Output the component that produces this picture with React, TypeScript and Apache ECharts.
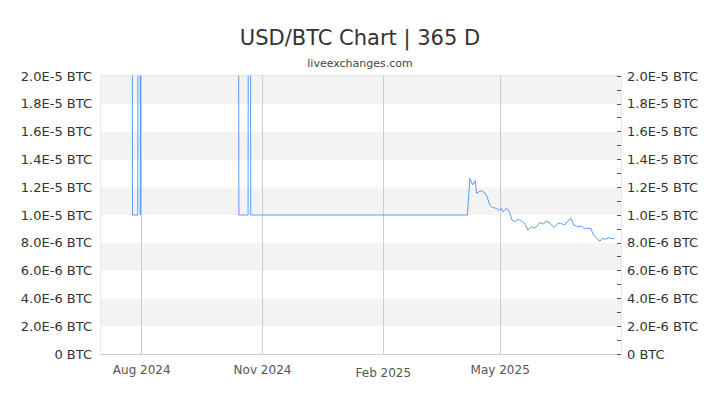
import * as echarts from 'echarts'
import React, { useEffect, useRef } from 'react'

// spike = off-chart glitch value, clipped at the top of the plot
const SPIKE = 1e-4

const dates = [
  '2024-07-24', '2024-07-25', '2024-07-29', '2024-07-30', '2024-07-31', '2024-08-01',
  '2024-10-13', '2024-10-14', '2024-10-21', '2024-10-22', '2024-10-23',
  '2025-04-06', '2025-04-08', '2025-04-10', '2025-04-12', '2025-04-13', '2025-04-15',
  '2025-04-17', '2025-04-19', '2025-04-21', '2025-04-23', '2025-04-25', '2025-04-28',
  '2025-04-30', '2025-05-02', '2025-05-03', '2025-05-06', '2025-05-08', '2025-05-10',
  '2025-05-12', '2025-05-15', '2025-05-18', '2025-05-20', '2025-05-22', '2025-05-25',
  '2025-05-27', '2025-05-29', '2025-05-31', '2025-06-03', '2025-06-05', '2025-06-08',
  '2025-06-11', '2025-06-14', '2025-06-16', '2025-06-19', '2025-06-21', '2025-06-24',
  '2025-06-26', '2025-06-29', '2025-07-02', '2025-07-04', '2025-07-06', '2025-07-09',
  '2025-07-11', '2025-07-14', '2025-07-16', '2025-07-18', '2025-07-20', '2025-07-23',
  '2025-07-25', '2025-07-27',
]

const rates = [
  SPIKE, 1.0e-5, 1.0e-5, SPIKE, 1.0e-5, SPIKE,
  SPIKE, 1.0e-5, 1.0e-5, SPIKE, 1.0e-5,
  1.0e-5, 1.264e-5, 1.216e-5, 1.247e-5, 1.156e-5, 1.168e-5,
  1.175e-5, 1.16e-5, 1.132e-5, 1.072e-5, 1.055e-5, 1.048e-5,
  1.036e-5, 1.048e-5, 1.024e-5, 1.048e-5, 1.024e-5, 9.64e-6,
  9.52e-6, 9.69e-6, 9.52e-6, 9.35e-6, 8.92e-6, 9.16e-6,
  9.04e-6, 9.2e-6, 9.45e-6, 9.35e-6, 9.57e-6, 9.4e-6,
  9.09e-6, 9.4e-6, 9.4e-6, 9.28e-6, 9.52e-6, 9.76e-6,
  9.28e-6, 9.16e-6, 9.2e-6, 9.04e-6, 9.04e-6, 9.04e-6,
  8.56e-6, 8.25e-6, 8.13e-6, 8.32e-6, 8.25e-6, 8.37e-6,
  8.3e-6, 8.32e-6,
]

const xStart = '2024-07-01'
const xEnd = '2025-08-01'
const xTicks = ['2024-08-01', '2024-11-01', '2025-02-01', '2025-05-01']
const monthNames = ['Jan', 'Feb', 'Mar', 'Apr', 'May', 'Jun', 'Jul', 'Aug', 'Sep', 'Oct', 'Nov', 'Dec']

const yMin = 0
const yMax = 2e-5
const yStep = 2e-6

const font = '"DejaVu Sans", sans-serif'

const toTime = (d: string) => Date.parse(d + 'T00:00:00Z')

function formatRate(v: number) {
  if (v === 0) return '0 BTC'
  return v.toExponential(1).toUpperCase() + ' BTC'
}

function formatMonth(v: number) {
  const d = new Date(v)
  const text = monthNames[d.getUTCMonth()] + ' ' + d.getUTCFullYear()
  // the Feb label sits a little lower in the original
  return d.getUTCMonth() === 1 ? '{low|' + text + '}' : text
}

export default function App() {
  const chartRef = useRef(null)

  useEffect(() => {
    const chart = echarts.init(chartRef.current, null, { renderer: 'svg' })

    const tickTimes = xTicks.map(toTime)

    const yCommon = {
      type: 'value',
      min: yMin,
      max: yMax,
      interval: yStep,
      splitLine: { show: false },
      axisLine: { show: false },
      axisLabel: {
        formatter: formatRate,
        color: '#333',
        fontSize: 13,
        fontFamily: font,
      },
    }

    chart.setOption({
      animation: false,
      title: [
        {
          text: 'USD/BTC Chart | 365 D',
          left: 'center',
          top: 22,
          textStyle: { fontSize: 21, fontWeight: 'normal', color: '#333', fontFamily: font },
        },
        {
          text: 'liveexchanges.com',
          left: 'center',
          top: 53,
          textStyle: { fontSize: 11, fontWeight: 'normal', color: '#444', fontFamily: font },
        },
      ],
      grid: {
        left: 101,
        right: 99,
        top: 76,
        bottom: 51,
        show: true,
        borderColor: '#d0d0d0',
        borderWidth: 1,
        backgroundColor: 'transparent',
      },
      xAxis: {
        type: 'value',
        min: toTime(xStart),
        max: toTime(xEnd),
        axisLine: { show: true, lineStyle: { color: '#d0d0d0' } },
        axisTick: { show: false, customValues: tickTimes },
        splitLine: { show: true, lineStyle: { color: '#cccccc', width: 1 } },
        axisLabel: {
          customValues: tickTimes,
          formatter: formatMonth,
          color: '#555',
          fontSize: 12,
          fontFamily: font,
          margin: 10,
          rich: {
            low: { fontSize: 12, color: '#555', fontFamily: font, padding: [3, 0, 0, 0] },
          },
        },
      },
      yAxis: [
        {
          ...yCommon,
          position: 'left',
          axisTick: { show: false },
          splitArea: { show: true, areaStyle: { color: ['#ffffff', '#f3f3f3'] } },
          axisLabel: { ...yCommon.axisLabel, margin: 9 },
        },
        {
          ...yCommon,
          position: 'right',
          axisTick: { show: true, inside: true, length: 4, lineStyle: { color: '#555' } },
          minorTick: { show: true, splitNumber: 2, length: 4, lineStyle: { color: '#555' } },
          axisLabel: { ...yCommon.axisLabel, margin: 6 },
        },
      ],
      series: [
        {
          name: 'USD/BTC',
          type: 'line',
          data: dates.map((d, i) => [toTime(d), rates[i]]),
          showSymbol: false,
          clip: true,
          lineStyle: { width: 1, color: '#5b9cf2' },
          itemStyle: { color: '#5b9cf2' },
        },
      ],
    })

    return () => {
      chart.dispose()
    }
  }, [])

  return (
    <div
      ref={chartRef}
      style={{ position: 'absolute', left: 0, top: 0, width: '720px', height: '405px' }}
    />
  )
}
